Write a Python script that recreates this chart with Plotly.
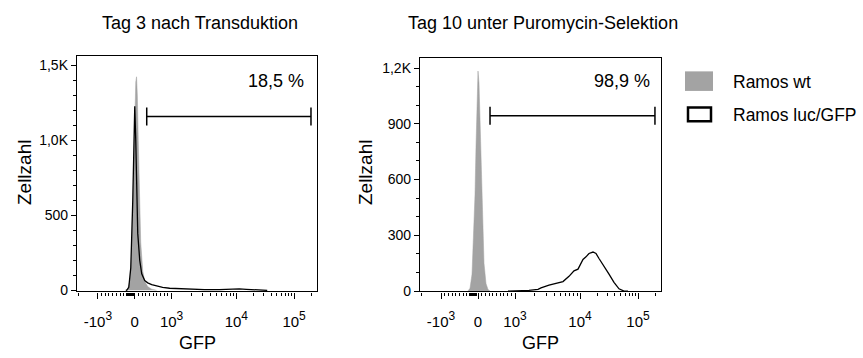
import math
import plotly.graph_objects as go

# ---------------- data ----------------
PANEL_TITLES = ["Tag 3 nach Transduktion", "Tag 10 unter Puromycin-Selektion"]
SERIES_NAMES = ["Ramos wt", "Ramos luc/GFP"]
GATE_LABELS = ["18,5 %", "98,9 %"]
X_TITLE = "GFP"
Y_TITLE = "Zellzahl"

# histogram x positions are given in display (logicle) units, y in cell counts
P1_WT_X = [-9, -7, -5, -3.5, -2, -1, 0, 1, 1.8, 2.6, 3.5, 4.5, 6, 8, 10, 13, 17, 22]
P1_WT_Y = [0, 10, 60, 220, 560, 900, 1200, 1390, 1424, 1300, 1000, 650, 320, 130, 60, 25, 8, 0]

P1_LUC_X = [-9, -8, -6, -4, -2, -1, 0, 1, 2, 3, 5, 7, 10, 13, 17, 22, 28, 35, 45, 55, 70,
            85, 95, 100, 105, 112, 120, 127, 133]
P1_LUC_Y = [0, 2, 20, 150, 600, 1000, 1228, 1000, 650, 380, 200, 110, 65, 50, 38, 28, 20, 14,
            10, 7, 5, 5, 7, 10, 10, 7, 5, 2, 0]

P2_WT_X = [-10, -8, -6, -4, -3, -2, -1, 0, 1, 2, 3, 4, 6, 8, 10, 12]
P2_WT_Y = [0, 15, 90, 330, 520, 780, 1050, 1184, 1120, 900, 650, 430, 150, 40, 8, 0]

P2_LUC_X = [30, 36, 51, 60, 63, 71, 80, 85, 91, 96, 100, 103, 105, 108, 111, 115, 118, 121,
            126, 131, 136, 141, 146, 150]
P2_LUC_Y = [0, 0, 3.5, 9, 17, 32, 44, 51, 79, 109, 118, 149, 170, 184, 202, 210, 202, 175,
            135, 91, 47, 12, 0, 0]

X_TICK_VALUES = [-1000, 0, 1000, 10000, 100000]
SUP = "<sup><span style='font-size:12px'>%s</span></sup>"
X_TICK_TEXT = ["-10" + SUP % "3", "0", "10" + SUP % "3", "10" + SUP % "4", "10" + SUP % "5"]
P1_Y_TICKS = [0, 500, 1000, 1500]
P1_Y_TEXT = ["0", "500", "1,0K", "1,5K"]
P2_Y_TICKS = [0, 300, 600, 900, 1200]
P2_Y_TEXT = ["0", "300", "600", "900", "1,2K"]

GATE_BOUNDS = [325, 196000]        # GFP values of the gate
GATE_LEVEL = [1160, 944]           # counts at which the gate bar is drawn
GATE_TEXT_POS = [(142, 1393), (144, 1133)]


# ---------------- logicle-like display scale ----------------
def disp(v):
    if abs(v) <= 1000:
        return v * 37.0 / 1000.0
    s = 1 if v > 0 else -1
    lg = math.log10(abs(v))
    if lg <= 4:
        d = 37 + (lg - 3) * 65
    elif lg <= 5:
        d = 102 + (lg - 4) * 58
    else:
        d = 160 + (lg - 5) * 58
    return s * d


X_RANGE = [-58, 183]
major_x = [disp(v) for v in X_TICK_VALUES]
minor_vals = []
for k in range(1, 10):
    minor_vals += [k * 100, -k * 100]
for dec in (1000, 10000, 100000):
    for k in range(2, 10):
        minor_vals.append(k * dec)
minor_vals += [-2000]
minor_vals += [-40, -60, -80, -110, -140, -170, -200, -230]
minor_x = [disp(v) for v in minor_vals if X_RANGE[0] < disp(v) < X_RANGE[1]]

W, H = 863, 358
FONT = "Liberation Sans, Arial, sans-serif"
GRAY = "#a3a3a3"

fig = go.Figure()

panels = [
    (P1_WT_X, P1_WT_Y, P1_LUC_X, P1_LUC_Y, "x", "y"),
    (P2_WT_X, P2_WT_Y, P2_LUC_X, P2_LUC_Y, "x2", "y2"),
]
for wx, wy, lx, ly, xa, ya in panels:
    fig.add_trace(go.Scatter(x=wx, y=wy, mode="lines", fill="tozeroy", fillcolor=GRAY,
                             line=dict(color=GRAY, width=0.5), name=SERIES_NAMES[0],
                             showlegend=False, xaxis=xa, yaxis=ya))
    fig.add_trace(go.Scatter(x=lx, y=ly, mode="lines", line=dict(color="black", width=1.3),
                             name=SERIES_NAMES[1], showlegend=False, xaxis=xa, yaxis=ya))

# domains (pixel based)
px_x = [(77, 317), (420, 661)]
px_y = [(57, 298), (59, 298)]
y_ranges = [[-6.5, 1564.5], [-1.6, 1256]]

axis_common = dict(showline=True, linecolor="black", linewidth=1.4, mirror=True,
                   ticks="outside", tickcolor="black", showgrid=False, zeroline=False,
                   tickfont=dict(family=FONT, size=14, color="black"))

for i in range(2):
    xd = [px_x[i][0] / W, px_x[i][1] / W]
    yd = [1 - px_y[i][1] / H, 1 - px_y[i][0] / H]
    xkey = "xaxis" if i == 0 else "xaxis2"
    ykey = "yaxis" if i == 0 else "yaxis2"
    fig.layout[xkey] = dict(axis_common, domain=xd, range=X_RANGE, tickmode="array",
                            tickvals=major_x, ticktext=X_TICK_TEXT, ticklen=6, tickwidth=1.4,
                            ticklabelstandoff=10,
                            tickfont=dict(family=FONT, size=15, color="black"),
                            anchor="y" if i == 0 else "y2",
                            minor=dict(tickmode="array", tickvals=minor_x, ticklen=3,
                                       tickwidth=1, tickcolor="black", ticks="outside"))
    yt = P1_Y_TICKS if i == 0 else P2_Y_TICKS
    ytt = P1_Y_TEXT if i == 0 else P2_Y_TEXT
    fig.layout[ykey] = dict(axis_common, domain=yd, range=y_ranges[i], tickmode="array",
                            tickvals=yt, ticktext=ytt, ticklen=5, tickwidth=1.4,
                            anchor="x" if i == 0 else "x2",
                            minor=dict(dtick=100, tick0=0, ticklen=3, tickwidth=1,
                                       tickcolor="black", ticks="outside"))

shapes = []
annotations = []
for i in range(2):
    xr = "x" if i == 0 else "x2"
    yr = "y" if i == 0 else "y2"
    g0, g1 = disp(GATE_BOUNDS[0]), disp(GATE_BOUNDS[1])
    lvl = GATE_LEVEL[i]
    shapes.append(dict(type="line", xref=xr, yref=yr, x0=g0, x1=g1, y0=lvl, y1=lvl,
                       line=dict(color="black", width=1.5)))
    for gx in (g0, g1):
        shapes.append(dict(type="line", xref=xr, yref=yr, ysizemode="pixel", yanchor=lvl,
                           x0=gx, x1=gx, y0=-9, y1=9, line=dict(color="black", width=1.5)))
    tx, ty = GATE_TEXT_POS[i]
    annotations.append(dict(xref=xr, yref=yr, x=tx, y=ty, text=GATE_LABELS[i], showarrow=False,
                            font=dict(family=FONT, size=18, color="black"),
                            xanchor="center", yanchor="middle"))
    # panel title
    cx = [200, 543][i]
    annotations.append(dict(xref="paper", yref="paper", x=cx / W, y=1 - 24 / H,
                            text=PANEL_TITLES[i], showarrow=False,
                            font=dict(family=FONT, size=18, color="black"),
                            xanchor="center", yanchor="middle"))
    # axis titles
    annotations.append(dict(xref="paper", yref="paper", x=(px_x[i][0] + px_x[i][1]) / 2 / W,
                            y=1 - 351 / H, text=X_TITLE, showarrow=False,
                            font=dict(family=FONT, size=18, color="black"),
                            xanchor="center", yanchor="middle"))
    annotations.append(dict(xref="paper", yref="paper", x=[24, 365][i] / W, y=1 - 177 / H,
                            text=Y_TITLE, showarrow=False, textangle=-90,
                            font=dict(family=FONT, size=19, color="black"),
                            xanchor="center", yanchor="middle"))

# legend (drawn manually)
shapes.append(dict(type="rect", xref="paper", yref="paper", x0=685 / W, x1=713 / W,
                   y0=1 - 93 / H, y1=1 - 73 / H, fillcolor=GRAY, line=dict(width=0)))
shapes.append(dict(type="rect", xref="paper", yref="paper", x0=688 / W, x1=711 / W,
                   y0=1 - 124 / H, y1=1 - 110 / H, fillcolor="white",
                   line=dict(color="black", width=2.5)))
for name, yc in zip(SERIES_NAMES, (84, 118)):
    annotations.append(dict(xref="paper", yref="paper", x=731 / W, y=1 - yc / H, text=name,
                            showarrow=False, font=dict(family=FONT, size=17.5, color="black"),
                            xanchor="left", yanchor="middle"))

fig.update_layout(width=W, height=H, margin=dict(l=0, r=0, t=0, b=0),
                  paper_bgcolor="white", plot_bgcolor="white", showlegend=False,
                  shapes=shapes, annotations=annotations,
                  font=dict(family=FONT, color="black"))

fig.write_html("out.html")
